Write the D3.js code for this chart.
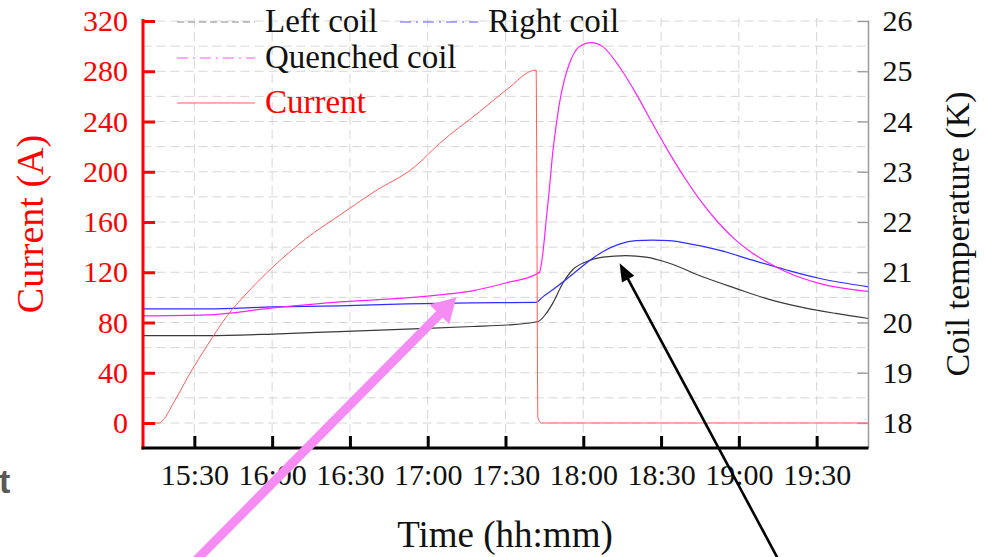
<!DOCTYPE html>
<html>
<head>
<meta charset="utf-8">
<script src="https://cdn.jsdelivr.net/npm/d3@7/dist/d3.min.js"></script>
<style>
	body { margin: 0; background: #fff; }
	svg { display: block; font-family: "Liberation Serif", "Times New Roman", serif; }
</style>
</head>
<body>
<svg id="chart" width="984" height="557"></svg>
<script>
// ---- data ----
const timeDomain = ["15:10", "19:50"];
const currentTicks = d3.range(0, 321, 40);
const tempTicks = d3.range(18, 27, 1);

const currentTimes = ["15:10", "15:16:30", "15:18", "15:21:54", "15:28:18", "15:34:42", "15:42:24", "15:51:24", "16:00:24", "16:13:12", "16:26:06", "16:38:54", "16:55", "17:04:36", "17:20", "17:30:18", "17:41:48", "17:42:30", "17:43:54", "19:50"];
const currentValues = [0, 0, 2.5, 15.7, 39.5, 60.8, 84.6, 105.9, 124.4, 147, 165.5, 183.5, 204, 222.6, 247.8, 265.1, 281, 4, 0, 0];

const quenchedTimes = ["15:10", "15:34:48", "16:00:18", "16:26:06", "16:51:54", "17:04:36", "17:17:18", "17:30:24", "17:41:48", "17:43:06", "17:44:24", "17:45:42", "17:47", "17:48:12", "17:49:30", "17:50:48", "17:52:42", "17:54:42", "17:58:30", "18:03", "18:07:30", "18:13:54", "18:20:18", "18:26:42", "18:33:12", "18:39:36", "18:46", "18:52:24", "18:58:48", "19:05:18", "19:11:42", "19:18:06", "19:30:54", "19:50"];
const quenchedValues = [20.13, 20.15, 20.29, 20.41, 20.49, 20.55, 20.63, 20.79, 20.96, 21.0, 21.38, 22.04, 22.7, 23.37, 23.9, 24.36, 24.83, 25.16, 25.49, 25.57, 25.49, 25.09, 24.56, 23.96, 23.37, 22.84, 22.37, 21.97, 21.64, 21.38, 21.18, 21.01, 20.78, 20.62];

const rightTimes = ["15:10", "15:34:48", "16:00:18", "16:26:06", "16:51:54", "17:17:18", "17:41:48", "17:44:24", "17:48:12", "17:54:42", "18:01:06", "18:07:30", "18:13:54", "18:20:18", "18:26:42", "18:33:12", "18:39:36", "18:52:24", "19:05:18", "19:18:06", "19:30:54", "19:50"];
const rightValues = [20.27, 20.27, 20.31, 20.33, 20.37, 20.39, 20.4, 20.51, 20.65, 20.91, 21.18, 21.41, 21.56, 21.63, 21.64, 21.63, 21.58, 21.44, 21.24, 21.05, 20.88, 20.71];

const leftTimes = ["15:10", "15:34:48", "16:00:18", "16:26:06", "16:51:54", "17:17:18", "17:30:24", "17:42:30", "17:45:42", "17:48:12", "17:52:06", "17:55:54", "18:01:06", "18:07:30", "18:16:30", "18:24:12", "18:33:12", "18:46", "18:58:48", "19:11:42", "19:24:30", "19:37:24", "19:50"];
const leftValues = [19.74, 19.74, 19.77, 19.82, 19.87, 19.92, 19.95, 20.02, 20.18, 20.38, 20.78, 21.05, 21.21, 21.3, 21.33, 21.3, 21.18, 20.91, 20.68, 20.46, 20.3, 20.18, 20.08];

const legendLabels = ["Left coil", "Right coil", "Quenched coil", "Current"];

// annotation arrows, in data units: [time, value]
const pinkArrow = [["15:26", -119], ["17:11", 100]];
const blackArrow = [["19:19", 14.92], ["18:14", 21.18]];

// ---- layout ----
const plot = { left: 142.5, right: 868.5, top: 21, zero: 423, bottom: 448 };
const serif = '"Liberation Serif", "Times New Roman", serif';

const parseHMS = d3.timeParse("%H:%M:%S");
const parseHM = d3.timeParse("%H:%M");
const parseTime = (s) => parseHMS(s) || parseHM(s);
const svg = d3.select("#chart");

const x = d3.scaleTime()
	.domain(timeDomain.map(parseTime))
	.range([plot.left, plot.right]);
const yCurrent = d3.scaleLinear()
	.domain([0, 320])
	.range([plot.zero, plot.top]);
const yTemp = d3.scaleLinear()
	.domain([18, 26])
	.range([plot.zero, plot.top]);

const xTicks = d3.timeMinute.every(30).range(x.domain()[0], x.domain()[1]);

// grid
const grid = svg.append("g")
	.attr("stroke", "#d6d6d6")
	.attr("stroke-width", 1)
	.attr("stroke-dasharray", "9,5");

grid.selectAll(".hgrid")
	.data(d3.range(0, 321, 20))
	.join("line")
	.attr("class", "hgrid")
	.attr("x1", plot.left)
	.attr("x2", plot.right)
	.attr("y1", (d) => yCurrent(d))
	.attr("y2", (d) => yCurrent(d));

grid.selectAll(".vgrid")
	.data(xTicks)
	.join("line")
	.attr("class", "vgrid")
	.attr("x1", (d) => x(d))
	.attr("x2", (d) => x(d))
	.attr("y1", 18)
	.attr("y2", plot.bottom);

// series
function drawSeries(times, values, scale, color, width) {
	const pts = times.map((t, i) => [x(parseTime(t)), scale(values[i])]);
	svg.append("path")
		.datum(pts)
		.attr("fill", "none")
		.attr("stroke", color)
		.attr("stroke-width", width)
		.attr("d", d3.line().curve(d3.curveMonotoneX));
}

drawSeries(leftTimes, leftValues, yTemp, "#3a3a3a", 1.2);
drawSeries(rightTimes, rightValues, yTemp, "#2f2fff", 1.2);
drawSeries(quenchedTimes, quenchedValues, yTemp, "#ff22ff", 1.2);
drawSeries(currentTimes, currentValues, yCurrent, "#ff5c5c", 1);

// left axis (red)
const leftAxis = svg.append("g")
	.attr("transform", `translate(${plot.left + 0.5},0)`)
	.call(d3.axisLeft(yCurrent).tickValues(currentTicks).tickSizeInner(-12).tickSizeOuter(0).tickPadding(15));
leftAxis.select(".domain").remove();
leftAxis.selectAll(".tick line").attr("stroke", "#ff0000").attr("stroke-width", 3);
leftAxis.selectAll(".tick text")
	.attr("fill", "#ff0000")
	.style("font-family", serif)
	.style("font-size", "30px");
leftAxis.append("line")
	.attr("y1", 19)
	.attr("y2", plot.bottom + 1.5)
	.attr("stroke", "#ff0000")
	.attr("stroke-width", 3);

// right axis (grey)
const rightAxis = svg.append("g")
	.attr("transform", `translate(${plot.right},0)`)
	.call(d3.axisRight(yTemp).tickValues(tempTicks).tickSizeInner(-11).tickSizeOuter(0).tickPadding(14));
rightAxis.select(".domain").remove();
rightAxis.selectAll(".tick line").attr("stroke", "#9a9a9a").attr("stroke-width", 1.3);
rightAxis.selectAll(".tick text")
	.attr("fill", "#111")
	.style("font-family", serif)
	.style("font-size", "30px");
rightAxis.append("line")
	.attr("y1", 20.5)
	.attr("y2", plot.bottom)
	.attr("stroke", "#9a9a9a")
	.attr("stroke-width", 1.5);

// bottom axis (black)
const bottomAxis = svg.append("g")
	.attr("transform", `translate(0,${plot.bottom})`)
	.call(d3.axisBottom(x).tickValues(xTicks).tickFormat(d3.timeFormat("%H:%M")).tickSizeInner(-12).tickSizeOuter(0).tickPadding(16));
bottomAxis.select(".domain").remove();
bottomAxis.selectAll(".tick line").attr("stroke", "#000").attr("stroke-width", 3);
bottomAxis.selectAll(".tick text")
	.attr("fill", "#111")
	.style("font-family", serif)
	.style("font-size", "30px");
bottomAxis.append("line")
	.attr("x1", plot.left - 1)
	.attr("x2", plot.right)
	.attr("stroke", "#000")
	.attr("stroke-width", 3);

// axis titles
svg.append("text")
	.attr("transform", "translate(43,224) rotate(-90)")
	.attr("text-anchor", "middle")
	.attr("fill", "#ff0000")
	.style("font-size", "38px")
	.text("Current (A)");

svg.append("text")
	.attr("transform", "translate(969,234) rotate(-90)")
	.attr("text-anchor", "middle")
	.attr("fill", "#111")
	.style("font-size", "34px")
	.text("Coil temperature (K)");

svg.append("text")
	.attr("x", 505)
	.attr("y", 547)
	.attr("text-anchor", "middle")
	.attr("fill", "#111")
	.style("font-size", "37px")
	.text("Time (hh:mm)");

// legend
const legendColors = ["#8a8a8a", "#5a5aff", "#ff55ff", "#ff5c5c"];
const legendDash = ["7,4", "11,5,2,5", "11,5,2,5", null];
const legendPos = [[177, 22], [400, 22], [177, 58], [177, 103]];
const legendTextColors = ["#111", "#111", "#111", "#ff0000"];

const legend = svg.append("g");
legendLabels.forEach((label, i) => {
	const [lx, ly] = legendPos[i];
	legend.append("line")
		.attr("x1", lx)
		.attr("x2", lx + 78)
		.attr("y1", ly)
		.attr("y2", ly)
		.attr("stroke", legendColors[i])
		.attr("stroke-width", 1.2)
		.attr("stroke-dasharray", legendDash[i]);
	legend.append("text")
		.attr("x", lx + 88)
		.attr("y", ly + 10)
		.attr("fill", legendTextColors[i])
		.style("font-size", "33px")
		.text(label);
});

// arrows
function arrow(pair, scale, color, shaft, headLen, headWidth) {
	const [x0, y0] = [x(parseTime(pair[0][0])), scale(pair[0][1])];
	const [x1, y1] = [x(parseTime(pair[1][0])), scale(pair[1][1])];
	const len = Math.hypot(x1 - x0, y1 - y0);
	const ux = (x1 - x0) / len;
	const uy = (y1 - y0) / len;
	const bx = x1 - ux * headLen;
	const by = y1 - uy * headLen;
	svg.append("line")
		.attr("x1", x0).attr("y1", y0)
		.attr("x2", bx + ux * 2).attr("y2", by + uy * 2)
		.attr("stroke", color)
		.attr("stroke-width", shaft);
	svg.append("polygon")
		.attr("points", [
			[x1, y1],
			[bx - uy * headWidth / 2, by + ux * headWidth / 2],
			[bx + uy * headWidth / 2, by - ux * headWidth / 2]
		].map((p) => p.join(",")).join(" "))
		.attr("fill", color);
}

arrow(pinkArrow, yCurrent, "#f48cf4", 9, 24, 28);
arrow(blackArrow, yTemp, "#000", 2.6, 18, 14);

// stray slide text at the left edge
svg.append("text")
	.attr("x", -1)
	.attr("y", 493)
	.attr("fill", "#595959")
	.style("font-family", '"Liberation Sans", Arial, sans-serif')
	.style("font-weight", "bold")
	.style("font-size", "34px")
	.text("t");
</script>
</body>
</html>
